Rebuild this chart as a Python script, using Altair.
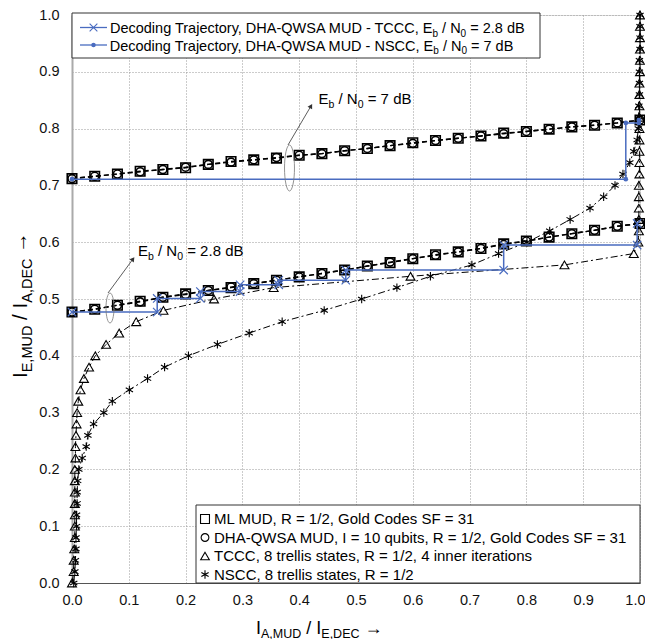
import math
import altair as alt
import pandas as pd

# ---------------- data ----------------
mud_x = [0.00, 0.04, 0.08, 0.12, 0.16, 0.20, 0.24, 0.28, 0.32, 0.36, 0.40, 0.44, 0.48,
         0.52, 0.56, 0.60, 0.64, 0.68, 0.72, 0.76, 0.80, 0.84, 0.88, 0.92, 0.96, 1.00]
ml_28 = [0.477, 0.482, 0.489, 0.496, 0.503, 0.509, 0.515, 0.520, 0.527, 0.533, 0.539, 0.545, 0.551,
         0.558, 0.564, 0.571, 0.578, 0.583, 0.589, 0.597, 0.602, 0.609, 0.615, 0.621, 0.628, 0.633]
dha_28 = [0.477, 0.482, 0.489, 0.495, 0.503, 0.508, 0.515, 0.521, 0.527, 0.533, 0.539, 0.545, 0.551,
          0.558, 0.565, 0.571, 0.577, 0.583, 0.589, 0.596, 0.602, 0.609, 0.615, 0.621, 0.628, 0.633]
ml_7 = [0.712, 0.716, 0.720, 0.725, 0.728, 0.731, 0.737, 0.742, 0.745, 0.748, 0.753, 0.756, 0.761,
        0.765, 0.770, 0.775, 0.779, 0.783, 0.787, 0.792, 0.795, 0.799, 0.803, 0.806, 0.810, 0.815]
dha_7 = [0.712, 0.716, 0.720, 0.724, 0.728, 0.732, 0.737, 0.741, 0.745, 0.749, 0.753, 0.756, 0.761,
         0.765, 0.770, 0.774, 0.779, 0.783, 0.787, 0.791, 0.795, 0.799, 0.803, 0.806, 0.810, 0.815]

dec_y = [0.00, 0.02, 0.04, 0.06, 0.08, 0.10, 0.12, 0.14, 0.16, 0.18, 0.20, 0.22, 0.24, 0.26, 0.28,
         0.30, 0.32, 0.34, 0.36, 0.38, 0.40, 0.42, 0.44, 0.46, 0.48, 0.50, 0.52, 0.54, 0.56, 0.58,
         0.60, 0.62, 0.64, 0.66, 0.68, 0.70, 0.72, 0.74, 0.76, 0.78, 0.80, 0.82, 0.84, 0.86, 0.88,
         0.90, 0.92, 0.94, 0.96, 0.98, 1.00]
tccc_x = [0.000, 0.003, 0.003, 0.004, 0.005, 0.005, 0.005, 0.005, 0.005, 0.005, 0.005, 0.006, 0.006,
          0.007, 0.008, 0.009, 0.011, 0.015, 0.021, 0.030, 0.041, 0.060, 0.083, 0.113, 0.161, 0.250,
          0.355, 0.596, 0.867, 0.989, 0.997, 0.998, 0.998, 0.998, 0.998, 0.998, 0.999, 0.999, 0.999,
          0.999, 0.999, 0.999, 0.999, 0.999, 0.999, 1.000, 1.000, 1.000, 1.000, 1.000, 1.000]
nscc_x = [0.003, 0.005, 0.006, 0.007, 0.007, 0.008, 0.008, 0.009, 0.009, 0.010, 0.012, 0.018, 0.025,
          0.028, 0.038, 0.056, 0.071, 0.101, 0.133, 0.163, 0.205, 0.256, 0.312, 0.370, 0.444, 0.510,
          0.572, 0.631, 0.704, 0.751, 0.801, 0.841, 0.877, 0.912, 0.936, 0.956, 0.970, 0.982, 0.989,
          0.995, 0.997, 0.998, 0.998, 0.999, 0.999, 0.999, 0.999, 1.000, 1.000, 1.000, 1.000]

traj28_x = [0.000, 0.150, 0.150, 0.226, 0.226, 0.296, 0.296, 0.364, 0.364, 0.482, 0.482, 0.760, 0.760, 0.995, 0.995]
traj28_y = [0.477, 0.477, 0.501, 0.501, 0.513, 0.513, 0.525, 0.525, 0.533, 0.533, 0.551, 0.551, 0.595, 0.595, 0.633]
traj7_x = [0.000, 0.975, 0.975, 0.998, 0.998]
traj7_y = [0.711, 0.711, 0.810, 0.810, 0.815]

tick_vals = [0.0, 0.1, 0.2, 0.3, 0.4, 0.5, 0.6, 0.7, 0.8, 0.9, 1.0]

top_legend = [
    [("Decoding Trajectory, DHA-QWSA MUD - TCCC, E", 0), ("b", 1), (" / N", 0), ("0", 1), (" = 2.8 dB", 0)],
    [("Decoding Trajectory, DHA-QWSA MUD - NSCC, E", 0), ("b", 1), (" / N", 0), ("0", 1), (" = 7 dB", 0)],
]
bottom_legend = [
    "ML MUD, R = 1/2, Gold Codes SF = 31",
    "DHA-QWSA MUD, I = 10 qubits, R = 1/2, Gold Codes SF = 31",
    "TCCC, 8 trellis states, R = 1/2, 4 inner iterations",
    "NSCC, 8 trellis states, R = 1/2",
]
note_7 = [("E", 0), ("b", 1), (" / N", 0), ("0", 1), (" = 7 dB", 0)]
note_28 = [("E", 0), ("b", 1), (" / N", 0), ("0", 1), (" = 2.8 dB", 0)]
x_title = [("I", 0), ("A,MUD", 1), (" / I", 0), ("E,DEC", 1), (" \u2192", 0)]
y_title = [("I", 0), ("E,MUD", 1), (" / I", 0), ("A,DEC", 1), (" \u2192", 0)]

# ---------------- layout ----------------
FONT = "Liberation Sans"
BLUE = "#4a6cc0"
W = H = 568
LEFT, TOP, RIGHT, BOTTOM = 64, 7, 5, 56
PX0 = 8 + LEFT
PY0 = 8 + TOP + H


def X(px):
    return (px - PX0) / W


def Y(py):
    return (PY0 - py) / H


AFM = {' ': 278, ',': 278, '-': 333, '.': 278, '/': 278, '=': 584, '\u2192': 1000,
       'A': 667, 'B': 667, 'C': 722, 'D': 722, 'E': 667, 'F': 611, 'G': 778, 'H': 722, 'I': 278,
       'J': 500, 'K': 667, 'L': 556, 'M': 833, 'N': 722, 'O': 778, 'P': 667, 'Q': 778, 'R': 722,
       'S': 667, 'T': 611, 'U': 722, 'V': 667, 'W': 944, 'X': 667, 'Y': 667, 'Z': 611,
       'a': 556, 'b': 556, 'c': 500, 'd': 556, 'e': 556, 'f': 278, 'g': 556, 'h': 556, 'i': 222,
       'j': 222, 'k': 500, 'l': 222, 'm': 833, 'n': 556, 'o': 556, 'p': 556, 'q': 556, 'r': 333,
       's': 500, 't': 278, 'u': 556, 'v': 500, 'w': 722, 'x': 500, 'y': 500, 'z': 500}


def tw(s, size):
    return sum(AFM.get(c, 556) for c in s) * size / 1000.0


def rich(parts, px, py, size, sub_size, drop, rotated=False, first_right=False):
    """Lay out text pieces (some subscripted). If first_right, the first piece ends at px."""
    rows = []
    cur = 0.0
    for k, (txt, sub) in enumerate(parts):
        fs = sub_size if sub else size
        if k == 0 and first_right:
            rows.append(dict(x=X(px), y=Y(py), t=txt.strip(' '), fs=fs, al="right"))
            continue
        lead = len(txt) - len(txt.lstrip(' '))
        off = cur + tw(' ' * lead, fs)
        d = drop if sub else 0
        if rotated:
            rx, ry = px + d, py - off
        else:
            rx, ry = px + off, py + d
        rows.append(dict(x=X(rx), y=Y(ry), t=txt.strip(' '), fs=fs, al="left"))
        cur += tw(txt, fs)
    return rows


xs = alt.Scale(domain=[0, 1], nice=False, zero=False)
ys = alt.Scale(domain=[0, 1], nice=False, zero=False)
XA = alt.Axis(values=tick_vals, format=".1f", grid=True, gridDash=[1, 2], gridColor="#999",
              ticks=False, tickSize=0, labelPadding=10, labelFontSize=14.5, labelFont=FONT,
              labelColor="#111", labelFlush=False, labelOverlap=False,
              labelAlign={"expr": "datum.value >= 1 ? 'right' : 'center'"},
              labelOffset={"expr": "datum.value >= 1 ? 5 : 0"},
              domainColor="#555", title=None)
YA = alt.Axis(values=tick_vals, format=".1f", grid=True, gridDash=[1, 2], gridColor="#999",
              ticks=False, tickSize=0, labelPadding=13, labelFontSize=14.5, labelFont=FONT,
              labelColor="#111", labelFlush=False, labelOverlap=False,
              domainColor="#aaa", domainWidth=2, title=None)


def enc():
    return dict(x=alt.X("x:Q", scale=xs, axis=XA), y=alt.Y("y:Q", scale=ys, axis=YA))


def df_xy(xv, yv):
    return pd.DataFrame({"x": xv, "y": yv, "i": list(range(len(xv)))})


ASTER = "M0,-1L0,1M-0.87,-0.5L0.87,0.5M-0.87,0.5L0.87,-0.5"
XSHAPE = "M-1,-1L1,1M-1,1L1,-1"

layers = []

# MUD curves (dashed with squares / circles)
for yv, shp, sz in [(ml_28, "square", 90), (dha_28, "circle", 64), (ml_7, "square", 90), (dha_7, "circle", 64)]:
    d = df_xy(mud_x, yv)
    layers.append(alt.Chart(d).mark_line(color="black", strokeDash=[5, 3], strokeWidth=1.4)
                  .encode(order="i:Q", **enc()))
    layers.append(alt.Chart(d).mark_point(shape=shp, size=sz, filled=False, color="black", strokeWidth=1.6, opacity=1)
                  .encode(**enc()))

# Decoder curves (dash-dot)
for xv, shp, sz in [(tccc_x, "triangle-up", 80), (nscc_x, ASTER, 70)]:
    d = df_xy(xv, dec_y)
    layers.append(alt.Chart(d).mark_line(color="black", strokeDash=[7, 3, 2, 3], strokeWidth=1)
                  .encode(order="i:Q", **enc()))
    layers.append(alt.Chart(d).mark_point(shape=shp, size=sz, filled=False, color="black", strokeWidth=1.1, opacity=1)
                  .encode(**enc()))

# Trajectories
d28 = df_xy(traj28_x, traj28_y)
d7 = df_xy(traj7_x, traj7_y)
layers.append(alt.Chart(d28).mark_line(color=BLUE, strokeWidth=1.5).encode(order="i:Q", **enc()))
layers.append(alt.Chart(d28).mark_point(shape=XSHAPE, size=70, filled=False, color=BLUE, strokeWidth=1.2, opacity=1)
              .encode(**enc()))
layers.append(alt.Chart(d7).mark_line(color=BLUE, strokeWidth=1.5).encode(order="i:Q", **enc()))
layers.append(alt.Chart(d7).mark_point(shape="circle", size=22, filled=True, color=BLUE, opacity=1).encode(**enc()))

# Annotation ellipses and arrows
ell = [  # (cx, cy, height, width) in page pixels
    (289.5, 168.0, 46.0, 10.0),
    (110.0, 308.0, 30.0, 8.0),
]
for cx, cy, h, w in ell:
    r = w / h
    path = f"M0,-1A{r:.3f},1,0,1,1,0,1A{r:.3f},1,0,1,1,0,-1Z"
    layers.append(alt.Chart(pd.DataFrame({"x": [X(cx)], "y": [Y(cy)]}))
                  .mark_point(shape=path, size=h * h, filled=False, color="#777", strokeWidth=0.8, opacity=1)
                  .encode(**enc()))

arrows = [((288, 145), (311, 106)), ((108, 293), (133, 259))]
for (x1, y1), (x2, y2) in arrows:
    layers.append(alt.Chart(pd.DataFrame({"x": [X(x1), X(x2)], "y": [Y(y1), Y(y2)], "i": [0, 1]}))
                  .mark_line(color="#333", strokeWidth=0.8).encode(order="i:Q", **enc()))
    ang = math.degrees(math.atan2(x2 - x1, -(y2 - y1))) % 360
    layers.append(alt.Chart(pd.DataFrame({"x": [X(x2)], "y": [Y(y2)]}))
                  .mark_point(shape="triangle-up", size=28, filled=True, color="#333", angle=ang, opacity=1)
                  .encode(**enc()))

# Legend boxes
boxes = [(72, 540, 13, 58), (196, 640, 505, 583)]
for l, r, t, b in boxes:
    layers.append(alt.Chart(pd.DataFrame({"x": [X(l)], "x2": [X(r)], "y": [Y(t)], "y2": [Y(b)]}))
                  .mark_rect(fill="white", stroke="#333", strokeWidth=1)
                  .encode(x=alt.X("x:Q", scale=xs, axis=XA), x2="x2:Q",
                          y=alt.Y("y:Q", scale=ys, axis=YA), y2="y2:Q"))

# top legend samples
for row, (cy, shp) in enumerate([(27.5, "x"), (45.0, "dot")]):
    layers.append(alt.Chart(pd.DataFrame({"x": [X(80), X(107)], "y": [Y(cy), Y(cy)], "i": [0, 1]}))
                  .mark_line(color=BLUE, strokeWidth=1.3).encode(order="i:Q", **enc()))
    pdf = pd.DataFrame({"x": [X(93.5)], "y": [Y(cy)]})
    if shp == "x":
        layers.append(alt.Chart(pdf).mark_point(shape=XSHAPE, size=60, filled=False, color=BLUE, strokeWidth=1.1, opacity=1)
                      .encode(**enc()))
    else:
        layers.append(alt.Chart(pdf).mark_point(shape="circle", size=20, filled=True, color=BLUE, opacity=1)
                      .encode(**enc()))

# bottom legend samples
bl_base = [524.0, 542.5, 561.0, 579.5]
bl_shapes = [("square", 80), ("circle", 60), ("triangle-up", 75), (ASTER, 70)]
for (shp, sz), b in zip(bl_shapes, bl_base):
    layers.append(alt.Chart(pd.DataFrame({"x": [X(205)], "y": [Y(b - 5)]}))
                  .mark_point(shape=shp, size=sz, filled=False, color="black", strokeWidth=1.1, opacity=1)
                  .encode(**enc()))

# Texts
rows = []
rows += rich(top_legend[0], 432.5, 33, 14.5, 10, 3.5, first_right=True)
rows += rich(top_legend[1], 433.3, 50.5, 14.5, 10, 3.5, first_right=True)
for txt, b in zip(bottom_legend, bl_base):
    rows += rich([(txt, 0)], 214, b, 15, 10.5, 3.5)
rows += rich(note_7, 318.5, 104, 15, 10.5, 3.5)
rows += rich(note_28, 138, 256, 15, 10.5, 3.5)
rows += rich(x_title, 256, 634, 18, 12.5, 3.5)
tdf = pd.DataFrame(rows)
for al in ["left", "right"]:
    sub = tdf[tdf["al"] == al]
    layers.append(alt.Chart(sub).mark_text(align=al, baseline="alphabetic", font=FONT, color="black")
                  .encode(text="t:N", size=alt.Size("fs:Q", scale=None, legend=None), **enc()))

ydf = pd.DataFrame(rich(y_title, 26.5, 378, 20.5, 14.5, 5, rotated=True))
layers.append(alt.Chart(ydf).mark_text(align="left", baseline="alphabetic", font=FONT, color="black", angle=270)
              .encode(text="t:N", size=alt.Size("fs:Q", scale=None, legend=None), **enc()))

chart = (alt.layer(*layers)
         .properties(width=W, height=H,
                     padding={"left": LEFT, "top": TOP, "right": RIGHT, "bottom": BOTTOM},
                     autosize=alt.AutoSizeParams(type="none"))
         .configure_view(stroke="#666", strokeWidth=1)
         .configure(background="white"))

chart.save("out.html", embed_options={"renderer": "svg", "actions": False})
